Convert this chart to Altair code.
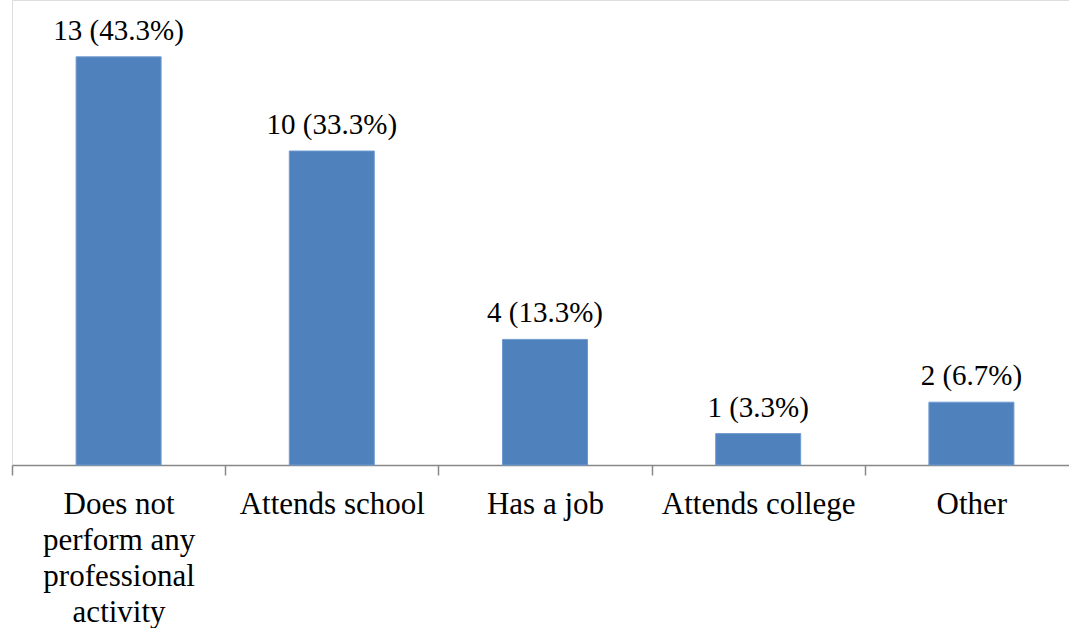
import altair as alt
import pandas as pd

categories = ["Does not perform any professional activity", "Attends school",
              "Has a job", "Attends college", "Other"]
counts = [13, 10, 4, 1, 2]
labels = ["13 (43.3%)", "10 (33.3%)", "4 (13.3%)", "1 (3.3%)", "2 (6.7%)"]

df = pd.DataFrame({"category": categories, "count": counts, "label": labels})

FONT = "Times New Roman, Liberation Serif, DejaVu Serif, serif"

x = alt.X("category:N", sort=None, title=None,
          scale=alt.Scale(range=[0, 1066], paddingInner=0, paddingOuter=0),
          axis=alt.Axis(tickBand="extent", labelAngle=0, labelFont=FONT,
                        labelFontSize=31, labelColor="#000000",
                        labelBaseline="alphabetic", labelPadding=38,
                        labelLineHeight=36, tickSize=10, tickColor="#888888",
                        tickWidth=1.5, domainColor="#888888", domainWidth=1.5,
                        labelLimit=400,
                        labelExpr="datum.label == 'Does not perform any professional activity' ? ['Does not','perform any','professional','activity'] : datum.label"))
y = alt.Y("count:Q", axis=None, scale=alt.Scale(domain=[0, 14.81], nice=False, zero=True))

bars = alt.Chart(df).mark_bar(color="#4F81BD", width=85, stroke="#6F9ACF", strokeWidth=1).encode(x=x, y=y)
text = alt.Chart(df).mark_text(font=FONT, fontSize=29, dy=-17, baseline="alphabetic",
                               color="#000000").encode(x=x, y=y, text="label:N")

chart = alt.layer(bars, text).properties(
    width=1057, height=465,
    padding={"left": 12, "top": 0, "right": 0, "bottom": 163},
    autosize=alt.AutoSizeParams(type="none"),
).configure_view(stroke=None).configure(background="white")

chart.save("out.html", embed_options={"renderer": "svg", "actions": False})
